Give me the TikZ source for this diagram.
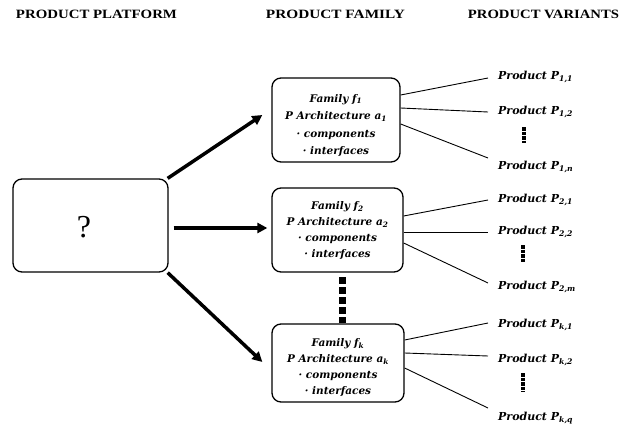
\documentclass[tikz,border=0pt]{standalone}
\usepackage{fontspec}
\setmainfont{Liberation Serif}
\newfontfamily\lblfont{DejaVu Serif}
\usetikzlibrary{arrows.meta}
\newcommand{\hdtext}[2]{\resizebox{#1}{8.4pt}{\bfseries #2}}
\begin{document}
\begin{tikzpicture}[x=1pt,y=-1pt,
  famframe/.style={draw,line width=1.3pt,rounded corners=9pt,inner sep=0pt},
  famtext/.style={align=center,font=\lblfont\itshape\bfseries\fontsize{10.5}{16}\selectfont,inner sep=0pt},
  prodtext/.style={anchor=west,font=\lblfont\itshape\bfseries\fontsize{11}{12}\selectfont,inner sep=0pt,text height=7.5pt,text depth=2pt},
  bigarrow/.style={line width=3.5pt,-{Triangle[length=10pt,width=10pt]}},
  thinline/.style={line width=0.9pt},
  vdots/.style={line width=3.3pt,dash pattern=on 3.5pt off 1pt},
  bigdots/.style={line width=7pt,dash pattern=on 7pt off 3pt}]
\useasboundingbox (0,0) rectangle (621,428);
% headers
\node[inner sep=0pt] (h1) at (96.5,14) {\hdtext{161pt}{PRODUCT PLATFORM}};
\node[inner sep=0pt] (h2) at (335.5,14) {\hdtext{139pt}{PRODUCT FAMILY}};
\node[inner sep=0pt] (h3) at (543.5,14) {\hdtext{151pt}{PRODUCT VARIANTS}};
% platform box
\node[famframe,minimum width=155pt,minimum height=93pt] (plat) at (90.5,225.5) {};
\node[inner sep=0pt,font=\fontsize{32}{32}\selectfont] (q) at (84,227) {?};
% family boxes
\node[famframe,minimum width=128pt,minimum height=84pt] (f1) at (336,120) {};
\node[famframe,minimum width=131pt,minimum height=84pt] (f2) at (337.5,230) {};
\node[famframe,minimum width=132pt,minimum height=78pt] (f3) at (338,363) {};
\node[famtext,font=\lblfont\itshape\bfseries\fontsize{10.5}{17.5}\selectfont] (t1) at (336,125.5) {Family \textit{f}\textsubscript{1}\\P Architecture \textit{a}\textsubscript{1}\\· components\\· interfaces};
\node[famtext] (t2) at (337.5,231) {Family \textit{f}\textsubscript{2}\\P Architecture \textit{a}\textsubscript{2}\\· components\\· interfaces};
\node[famtext] (t3) at (338,368) {Family \textit{f}\textsubscript{k}\\P Architecture \textit{a}\textsubscript{k}\\· components\\· interfaces};
% arrows
\draw[bigarrow] ([xshift=-1pt]plat.north east) -- ([xshift=-9pt,yshift=5pt]f1.west);
\draw[bigarrow] ([xshift=5pt,yshift=-2.5pt]plat.east) -- ([xshift=-4pt,yshift=2pt]f2.west);
\draw[bigarrow] ([xshift=-1pt]plat.south east) -- ([xshift=-9pt,yshift=1pt]f3.west);
% dots between families
\coordinate (d1) at (342,277);
\coordinate (d2) at (342,323);
\draw[bigdots] (d1) -- (d2);
% products
\node[prodtext] (p11) at (498,77) {Product \textit{P}\textsubscript{1,1}};
\node[prodtext] (p12) at (498,112) {Product \textit{P}\textsubscript{1,2}};
\node[prodtext] (p1n) at (498,167) {Product \textit{P}\textsubscript{1,n}};
\node[prodtext] (p21) at (498,200) {Product \textit{P}\textsubscript{2,1}};
\node[prodtext] (p22) at (498,232) {Product \textit{P}\textsubscript{2,2}};
\node[prodtext] (p2m) at (498,287) {Product \textit{P}\textsubscript{2,m}};
\node[prodtext] (pk1) at (498,325) {Product \textit{P}\textsubscript{k,1}};
\node[prodtext] (pk2) at (498,360) {Product \textit{P}\textsubscript{k,2}};
\node[prodtext] (pkq) at (498,418) {Product \textit{P}\textsubscript{k,q}};
% product dots
\coordinate (a1) at (524,127); \coordinate (a2) at (524,143);
\coordinate (b1) at (523,245); \coordinate (b2) at (523,263);
\coordinate (c1) at (523,373); \coordinate (c2) at (523,392);
\draw[vdots] (a1) -- (a2);
\draw[vdots] (b1) -- (b2);
\draw[vdots] (c1) -- (c2);
% connectors family -> products
\draw[thinline] ([yshift=25pt]f1.east) -- ([xshift=-10pt,yshift=-1pt]p11.west);
\draw[thinline] ([yshift=12pt]f1.east) -- ([xshift=-10pt]p12.west);
\draw[thinline] ([yshift=-4pt]f1.east) -- ([xshift=-10pt,yshift=9pt]p1n.west);
\draw[thinline] ([yshift=14pt]f2.east) -- ([xshift=-10pt]p21.west);
\draw[thinline] ([yshift=-2pt]f2.east) -- ([xshift=-10pt]p22.west);
\draw[thinline] ([yshift=-13pt]f2.east) -- ([xshift=-10pt,yshift=4pt]p2m.west);
\draw[thinline] ([yshift=23pt]f3.east) -- ([xshift=-10pt,yshift=2pt]pk1.west);
\draw[thinline] ([yshift=10pt]f3.east) -- ([xshift=-10pt,yshift=4pt]pk2.west);
\draw[thinline] ([yshift=-5pt]f3.east) -- ([xshift=-10pt,yshift=10pt]pkq.west);
\end{tikzpicture}
\end{document}
